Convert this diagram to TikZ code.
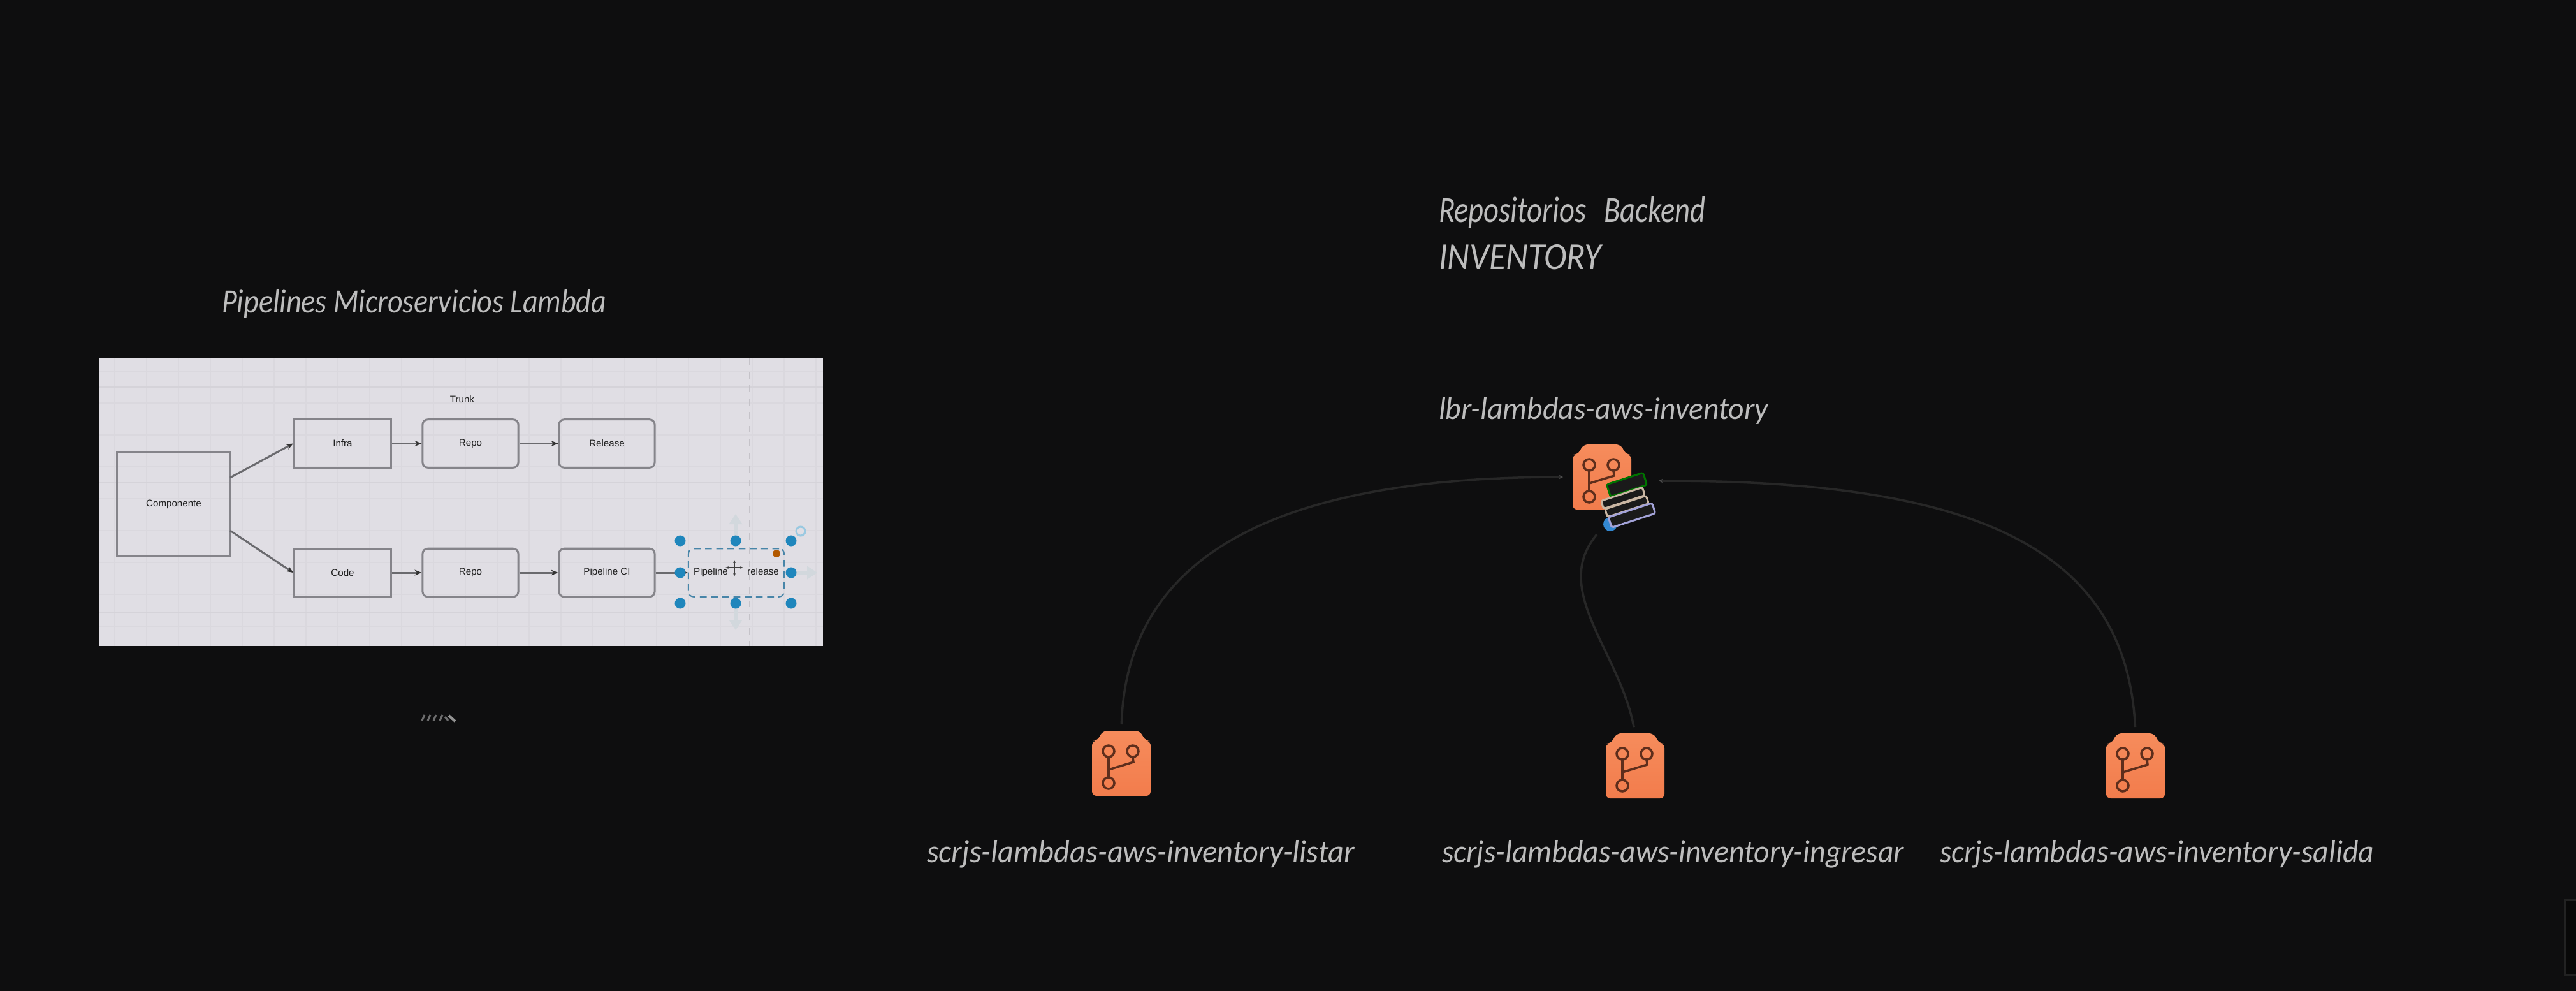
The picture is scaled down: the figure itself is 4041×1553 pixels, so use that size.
\documentclass[tikz,border=0pt]{standalone}
\usepackage{fontspec}
\usepackage{graphicx}
\setmainfont{Carlito}
\newfontfamily\uifont{Liberation Sans}
\usetikzlibrary{arrows.meta,shapes.geometric}
\definecolor{bgc}{HTML}{0E0E0F}
\definecolor{panelc}{HTML}{E0DEE4}
\definecolor{gridc}{HTML}{DAD8DE}
\definecolor{gridm}{HTML}{D5D3D9}
\definecolor{boxc}{HTML}{85848A}
\definecolor{txtc}{HTML}{BDBDBD}
\definecolor{connc}{HTML}{272727}
\definecolor{tipc}{HTML}{4E4E4E}
\definecolor{orgt}{HTML}{F68C5C}
\definecolor{orgb}{HTML}{F27C4C}
\definecolor{icoln}{HTML}{5E2E1C}
\definecolor{bluec}{HTML}{1F86BC}
\definecolor{ghostc}{HTML}{D2D8DD}
\definecolor{stackd}{HTML}{1A1A1A}
\newcommand{\hwlabel}[6]{\node[hwtext] (#1) at (#2,#3) {\resizebox{#4}{#5}{\itshape #6}};}
\newcommand{\repoicon}[3]{% name, left x, top y
  \begin{scope}[shift={(#2,#3)}]
    \shade[top color=orgt,bottom color=orgb,rounded corners=2pt]
      (0,102) -- (0,16) -- (8,16) -- (17,0) -- (75,0) -- (84,16) -- (92,16) -- (92,102) -- cycle;
    \draw[icoline] (26,32) circle[radius=9];
    \draw[icoline] (64,32) circle[radius=9];
    \draw[icoline] (26,82) circle[radius=9];
    \draw[icoline] (26,41) -- (26,73);
    \draw[icoline] (26,61) -- (65,49) -- (64,41);
    \node[iconbox] (#1) at (46,51) {};
  \end{scope}}
\tikzset{
  hwtext/.style={anchor=base west,inner sep=0pt,outer sep=0pt,text=txtc},
  icoline/.style={draw=icoln,line width=0.035cm},
  iconbox/.style={minimum width=0.92cm,minimum height=1.02cm,inner sep=0pt,outer sep=0pt},
  conn/.style={draw=connc,line width=0.035cm},
  flow/.style={draw=boxc!80!black,line width=0.03cm,-{Stealth[length=0.11cm,width=0.09cm,color=black!80]}},
  sqbox/.style={draw=boxc,line width=0.03cm,minimum width=1.52cm,minimum height=0.755cm,inner sep=0pt,
     font=\uifont\fontsize{4.3}{5}\selectfont,text=black!88},
  rdbox/.style={sqbox,rounded corners=0.08cm,minimum width=1.5cm},
  handle/.style={circle,fill=bluec,minimum size=0.17cm,inner sep=0pt},
  ghost/.style={draw=ghostc,line width=0.05cm,-{Triangle[length=0.16cm,width=0.2cm]}},
  stackbar/.style={rectangle,rotate=18,rounded corners=0.03cm,fill=stackd,line width=0.03cm,inner sep=0pt}
}
\begin{document}
\begin{tikzpicture}[x=0.01cm,y=-0.01cm]
\useasboundingbox (0,0) rectangle (4041,1553);
\fill[bgc] (-10,-10) rectangle (4051,1563);
\draw[draw=connc!80!bgc,fill=black!45!bgc,line width=0.03cm] (4023,1411) rectangle (4060,1528);

% image panel
\fill[panelc] (155,562) rectangle (1291,1013);
\begin{scope}
  \clip (155,562) rectangle (1291,1013);
  \foreach \gx in {180,230,...,1290} \draw[gridc,line width=0.012cm] (\gx,562) -- (\gx,1013);
  \foreach \gy in {582,632,...,1010} \draw[gridc,line width=0.012cm] (155,\gy) -- (1291,\gy);
  \draw[gridm,line width=0.02cm] (155,607) -- (1291,607) (155,757) -- (1291,757) (155,961) -- (1291,961);
\end{scope}
\draw[draw=boxc!30!panelc,dashed,line width=0.025cm] (1176,562) -- (1176,1013);

\node[font=\uifont\fontsize{4.3}{5}\selectfont,text=black!88] (trunk) at (725,626) {Trunk};
\node[sqbox,minimum width=1.77cm,minimum height=1.63cm] (comp) at (272.5,790.5) {Componente};
\node[sqbox] (infra) at (537.5,695.5) {Infra};
\node[rdbox] (repoa) at (738,695.5) {Repo};
\node[rdbox] (rele) at (952,695.5) {Release};
\node[sqbox] (code) at (537.5,898) {Code};
\node[rdbox] (repob) at (738,898) {Repo};
\node[rdbox] (pci) at (952,898) {Pipeline CI};
\coordinate (ca) at (361,749);
\coordinate (cb) at (361,832);
\draw[flow] (ca) -- (infra.west);
\draw[flow] (cb) -- (code.west);
\draw[flow] (infra) -- (repoa);
\draw[flow] (repoa) -- (rele);
\draw[flow] (code) -- (repob);
\draw[flow] (repob) -- (pci);
% selected shape and its handles
\draw[ghost] (1154,842) -- (1154,806);
\draw[ghost] (1154,954) -- (1154,988);
\draw[ghost] (1244,898) -- (1282,898);
\node[rdbox,draw=bluec!60!boxc,densely dashed,line width=0.02cm] (prel) at (1155,898) {Pipeline \hspace{0.22cm} release};
\draw[flow] (pci) -- (prel);
\foreach \hn/\hx/\hy in {ha/1067/848,hb/1154/848,hc/1241/848,hd/1067/898,he/1241/898,hf/1067/946,hg/1154/946,hh/1241/946}
  \node[handle] (\hn) at (\hx,\hy) {};
\node[circle,draw=bluec!45!white,line width=0.03cm,fill=panelc,minimum size=0.14cm,inner sep=0pt] (hrot) at (1256,833) {};
\node[circle,fill=orange!70!black,minimum size=0.12cm,inner sep=0pt] (hcorner) at (1218,868) {};
% move cursor
\draw[black!75,line width=0.02cm,{Stealth[length=0.05cm]}-{Stealth[length=0.05cm]}] (1152,878) -- (1152,904);
\draw[black!75,line width=0.02cm,{Stealth[length=0.05cm]}-{Stealth[length=0.05cm]}] (1138,890) -- (1166,890);

% small illegible mark below the panel
\draw[white!40!bgc,line width=0.03cm]
  (662,1130) -- (666,1121) (671,1130) -- (675,1121) (680,1130) -- (684,1121) (690,1130) -- (694,1121) (698,1124) -- (703,1130);
\draw[white!55!bgc,line width=0.04cm] (704,1122) -- (714,1131);

% headings
\hwlabel{tpipe}{348}{490}{6.03cm}{0.37cm}{Pipelines Microservicios Lambda}
\hwlabel{trepo}{2257}{348}{4.18cm}{0.40cm}{Repositorios\hspace{0.6em}Backend}
\hwlabel{tinv}{2257}{422}{2.55cm}{0.39cm}{INVENTORY}
\hwlabel{tlbr}{2257}{657}{5.17cm}{0.34cm}{lbr-lambdas-aws-inventory}
\hwlabel{tlis}{1454}{1352}{6.71cm}{0.35cm}{scrjs-lambdas-aws-inventory-listar}
\hwlabel{ting}{2262}{1352}{7.25cm}{0.35cm}{scrjs-lambdas-aws-inventory-ingresar}
\hwlabel{tsal}{3043}{1352}{6.81cm}{0.35cm}{scrjs-lambdas-aws-inventory-salida}

% repository icons
\repoicon{icona}{1713}{1146}
\repoicon{iconb}{2519}{1150}
\repoicon{iconc}{3304}{1150}
\repoicon{icont}{2467}{697}

% connectors
\coordinate (ta) at (2452,748);
\coordinate (tb) at (2602,754);
\coordinate (tc) at (2505,838);
\draw[conn,shorten <=0.1cm,-{Stealth[length=0.06cm,width=0.06cm,color=tipc]}] (icona.north) .. controls (1768,850) and (2040,748) .. (ta);
\draw[conn,shorten <=0.1cm,-{Stealth[length=0.06cm,width=0.06cm,color=tipc]}] (iconc.north) .. controls (3335,850) and (3080,753) .. (tb);
\draw[conn,shorten <=0.1cm] (iconb.north) .. controls (2540,1020) and (2432,925) .. (tc);

% stacked selection over the top icon
\node[circle,fill=cyan!60!blue!85!white,minimum size=0.22cm,inner sep=0pt] (sdot) at (2526,822) {};
\node[stackbar,draw=green!45!black,minimum width=0.6cm,minimum height=0.2cm] (sa) at (2552,760) {};
\node[stackbar,draw=black!25!white!85!orange,minimum width=0.68cm,minimum height=0.13cm] (sb) at (2546,781) {};
\node[stackbar,draw=black!25!white!85!orange,minimum width=0.68cm,minimum height=0.13cm] (sc) at (2552,794) {};
\node[stackbar,draw=blue!25!white!85!black,minimum width=0.72cm,minimum height=0.17cm] (sd) at (2560,808) {};
\end{tikzpicture}
\end{document}
